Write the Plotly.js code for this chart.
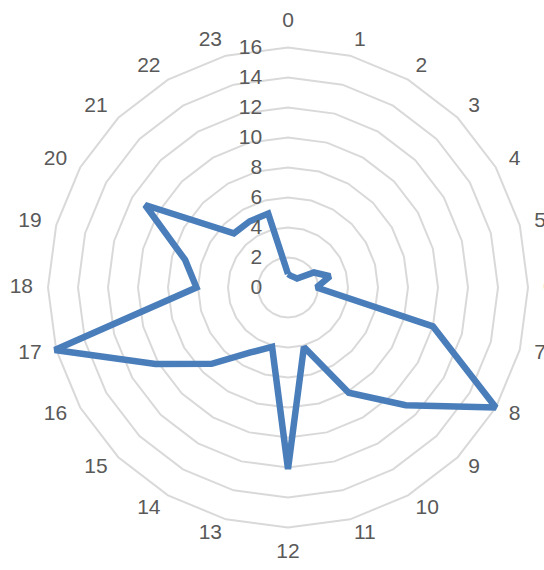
<!DOCTYPE html>
<html>
<head>
<meta charset="utf-8">
<script src="https://cdn.plot.ly/plotly-3.0.1.min.js"></script>
<style>html,body{margin:0;padding:0;background:#fff;}#chart{width:544px;height:570px;}</style>
</head>
<body>
<div id="chart"></div>
<script>
var categories = ["0","1","2","3","4","5","6","7","8","9","10","11","12","13","14","15","16","17","18","19","20","21","22","23"];
var values = [0.9, 0.8, 0.8, 0.85, 2.0, 2.9, 1.9, 10, 16, 11.1, 8.1, 4.1, 12.1, 4.1, 5.0, 7.2, 10.2, 16.1, 6.1, 7.1, 11, 5.1, 5.1, 5.1];
var radialTicks = [0,2,4,6,8,10,12,14,16];

var W = 544, H = 570, cx = 288, cy = 287.5, R = 240;   // R: pixel radius of the outer (16) ring
var rMax = radialTicks[radialTicks.length - 1];
var labelR = rMax * (R + 15) / R;        // category labels anchored 15px outside the outer ring
var rangeMax = labelR + 0.05;            // axis range just covers the label anchors
var Rfull = R * rangeMax / rMax;
var n = categories.length;

var trace = {
  type: 'scatterpolar',
  r: values.concat([values[0]]),
  theta: categories.concat([categories[0]]),
  mode: 'lines',
  line: {color: '#4A7EBB', width: 6.5, shape: 'linear'},
  hoverinfo: 'skip'
};
var labels = {
  type: 'scatterpolar',
  mode: 'text',
  r: categories.map(function(){ return labelR; }),
  theta: categories,
  text: categories,
  textposition: categories.map(function(c, i){
    if (i === 0) return 'top center';
    if (i === n/2) return 'bottom center';
    return i < n/2 ? 'middle right' : 'middle left';
  }),
  textfont: {family: 'Liberation Sans, Arial, sans-serif', size: 21, color: '#595959'},
  cliponaxis: false,
  hoverinfo: 'skip'
};
var layout = {
  width: W, height: H,
  margin: {l:0, r:0, t:0, b:0},
  paper_bgcolor: '#fff',
  showlegend: false,
  font: {family: 'Liberation Sans, Arial, sans-serif', size: 21, color: '#595959'},
  polar: {
    domain: {x: [(cx-Rfull)/W, Math.min(1, (cx+Rfull)/W)], y: [(H-cy-Rfull)/H, (H-cy+Rfull)/H]},
    bgcolor: 'rgba(0,0,0,0)',
    gridshape: 'linear',
    radialaxis: {
      range: [0, rangeMax], tickvals: radialTicks, ticktext: radialTicks.map(String),
      angle: 90, tickangle: 90, side: 'counterclockwise',
      showline: false, gridcolor: '#d9d9d9', gridwidth: 2,
      ticks: 'outside', ticklen: 18, tickcolor: 'rgba(0,0,0,0)',
      tickfont: {size: 21, color: '#595959'}
    },
    angularaxis: {
      type: 'category', categoryarray: categories, direction: 'clockwise', rotation: 90,
      showgrid: false, showline: false,
      ticks: '', showticklabels: false
    }
  }
};
Plotly.newPlot('chart', [trace, labels], layout, {staticPlot: true, displayModeBar: false});
</script>
</body>
</html>
